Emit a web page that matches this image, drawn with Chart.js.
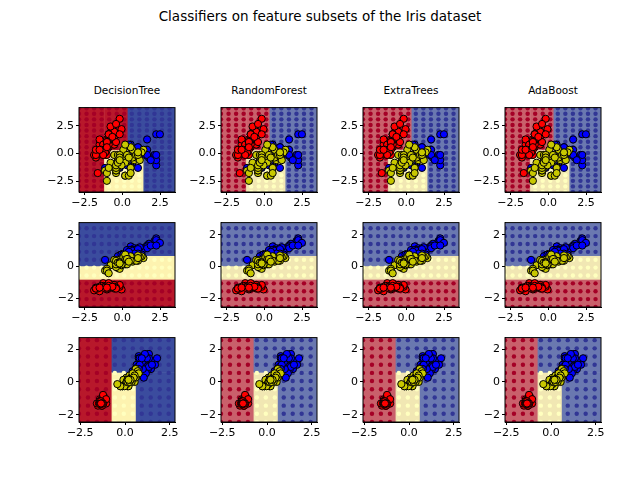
<!DOCTYPE html>
<html>
<head>
<meta charset="utf-8">
<script src="https://cdn.jsdelivr.net/npm/chart.js@4/dist/chart.umd.min.js"></script>
<style>
  body { margin: 0; background: #fff; font-family: "DejaVu Sans", sans-serif; }
  #fig { position: relative; width: 640px; height: 480px; }
  .t { position: absolute; text-align: center; color: #000; white-space: nowrap; }
  .box { position: absolute; }
</style>
</head>
<body>
<div id="fig">
  <div class="t" style="left:0;width:640px;top:8px;font-size:13.5px">Classifiers on feature subsets of the Iris dataset</div>
</div>
<script>
// Iris: sepal length, sepal width, petal length, petal width (cm)
const setosaSL = [5.1,4.9,4.7,4.6,5.0,5.4,4.6,5.0,4.4,4.9,5.4,4.8,4.8,4.3,5.8,5.7,5.4,5.1,5.7,5.1,5.4,5.1,4.6,5.1,4.8,5.0,5.0,5.2,5.2,4.7,4.8,5.4,5.2,5.5,4.9,5.0,5.5,4.9,4.4,5.1,5.0,4.5,4.4,5.0,5.1,4.8,5.1,4.6,5.3,5.0];
const setosaSW = [3.5,3.0,3.2,3.1,3.6,3.9,3.4,3.4,2.9,3.1,3.7,3.4,3.0,3.0,4.0,4.4,3.9,3.5,3.8,3.8,3.4,3.7,3.6,3.3,3.4,3.0,3.4,3.5,3.4,3.2,3.1,3.4,4.1,4.2,3.1,3.2,3.5,3.1,3.0,3.4,3.5,2.3,3.2,3.5,3.8,3.0,3.8,3.2,3.7,3.3];
const setosaPL = [1.4,1.4,1.3,1.5,1.4,1.7,1.4,1.5,1.4,1.5,1.5,1.6,1.4,1.1,1.2,1.5,1.3,1.4,1.7,1.5,1.7,1.5,1.0,1.7,1.9,1.6,1.6,1.5,1.4,1.6,1.6,1.5,1.5,1.4,1.5,1.2,1.3,1.5,1.3,1.5,1.3,1.3,1.3,1.6,1.9,1.4,1.6,1.4,1.5,1.4];
const setosaPW = [0.2,0.2,0.2,0.2,0.2,0.4,0.3,0.2,0.2,0.1,0.2,0.2,0.1,0.1,0.2,0.4,0.4,0.3,0.3,0.3,0.2,0.4,0.2,0.5,0.2,0.2,0.4,0.2,0.2,0.2,0.2,0.4,0.1,0.2,0.1,0.2,0.2,0.1,0.2,0.2,0.3,0.3,0.2,0.6,0.4,0.3,0.2,0.2,0.2,0.2];
const versiSL = [7.0,6.4,6.9,5.5,6.5,5.7,6.3,4.9,6.6,5.2,5.0,5.9,6.0,6.1,5.6,6.7,5.6,5.8,6.2,5.6,5.9,6.1,6.3,6.1,6.4,6.6,6.8,6.7,6.0,5.7,5.5,5.5,5.8,6.0,5.4,6.0,6.7,6.3,5.6,5.5,5.5,6.1,5.8,5.0,5.6,5.7,5.7,6.2,5.1,5.7];
const versiSW = [3.2,3.2,3.1,2.3,2.8,2.8,3.3,2.4,2.9,2.7,2.0,3.0,2.2,2.9,2.9,3.1,3.0,2.7,2.2,2.5,3.2,2.8,2.5,2.8,2.9,3.0,2.8,3.0,2.9,2.6,2.4,2.4,2.7,2.7,3.0,3.4,3.1,2.3,3.0,2.5,2.6,3.0,2.6,2.3,2.7,3.0,2.9,2.9,2.5,2.8];
const versiPL = [4.7,4.5,4.9,4.0,4.6,4.5,4.7,3.3,4.6,3.9,3.5,4.2,4.0,4.7,3.6,4.4,4.5,4.1,4.5,3.9,4.8,4.0,4.9,4.7,4.3,4.4,4.8,5.0,4.5,3.5,3.8,3.7,3.9,5.1,4.5,4.5,4.7,4.4,4.1,4.0,4.4,4.6,4.0,3.3,4.2,4.2,4.2,4.3,3.0,4.1];
const versiPW = [1.4,1.5,1.5,1.3,1.5,1.3,1.6,1.0,1.3,1.4,1.0,1.5,1.0,1.4,1.3,1.4,1.5,1.0,1.5,1.1,1.8,1.3,1.5,1.2,1.3,1.4,1.4,1.7,1.5,1.0,1.1,1.0,1.2,1.6,1.5,1.6,1.5,1.3,1.3,1.3,1.2,1.4,1.2,1.0,1.3,1.2,1.3,1.3,1.1,1.3];
const virgSL = [6.3,5.8,7.1,6.3,6.5,7.6,4.9,7.3,6.7,7.2,6.5,6.4,6.8,5.7,5.8,6.4,6.5,7.7,7.7,6.0,6.9,5.6,7.7,6.3,6.7,7.2,6.2,6.1,6.4,7.2,7.4,7.9,6.4,6.3,6.1,7.7,6.3,6.4,6.0,6.9,6.7,6.9,5.8,6.8,6.7,6.7,6.3,6.5,6.2,5.9];
const virgSW = [3.3,2.7,3.0,2.9,3.0,3.0,2.5,2.9,2.5,3.6,3.2,2.7,3.0,2.5,2.8,3.2,3.0,3.8,2.6,2.2,3.2,2.8,2.8,2.7,3.3,3.2,2.8,3.0,2.8,3.0,2.8,3.8,2.8,2.8,2.6,3.0,3.4,3.1,3.0,3.1,3.1,3.1,2.7,3.2,3.3,3.0,2.5,3.0,3.4,3.0];
const virgPL = [6.0,5.1,5.9,5.6,5.8,6.6,4.5,6.3,5.8,6.1,5.1,5.3,5.5,5.0,5.1,5.3,5.5,6.7,6.9,5.0,5.7,4.9,6.7,4.9,5.7,6.0,4.8,4.9,5.6,5.8,6.1,6.4,5.6,5.1,5.6,6.1,5.6,5.5,4.8,5.4,5.6,5.1,5.1,5.9,5.7,5.2,5.0,5.2,5.4,5.1];
const virgPW = [2.5,1.9,2.1,1.8,2.2,2.1,1.7,1.8,1.8,2.5,2.0,1.9,2.1,2.0,2.4,2.3,1.8,2.2,2.3,1.5,2.3,2.0,2.0,1.8,2.1,1.8,1.8,1.8,2.1,1.6,1.9,2.0,2.2,1.5,1.4,2.3,2.4,1.8,1.8,2.1,2.4,2.3,1.9,2.3,2.5,2.3,1.9,2.0,2.3,1.8];

const classifiers = ["DecisionTree", "RandomForest", "ExtraTrees", "AdaBoost"];
const featurePairs = [[0, 1], [0, 2], [2, 3]];
const xTicks = [[-2.5, 0, 2.5], [-2.5, 0, 2.5], [-2.5, 0, 2.5]];
const yTicks = [[-2.5, 0, 2.5], [-2, 0, 2], [-2, 0, 2]];

// approximate decision regions per row: [x0, x1, y0, y1, class]
const regions = [
  [[-9,-1.2,-9,9,0],[-1.2,0.35,0.3,9,0],[-1.2,1.4,-9,0.3,1],[0.35,9,0.3,9,2],[1.4,9,-9,0.3,2]],
  [[-9,9,-9,-0.8,0],[-9,9,-0.8,0.05,1],[0.1,9,0.05,0.7,1],[-9,0.1,0.05,9,2],[0.1,9,0.7,9,2]],
  [[-9,-0.75,-9,9,0],[-0.75,0.6,-9,0.6,1],[-0.75,9,0.6,9,2],[0.6,9,-9,0.6,2]]
];

const featureArrays = [
  [setosaSL, versiSL, virgSL], [setosaSW, versiSW, virgSW],
  [setosaPL, versiPL, virgPL], [setosaPW, versiPW, virgPW]
];
const std = featureArrays.map(cls => {
  const all = cls.flat();
  const m = all.reduce((a, b) => a + b, 0) / all.length;
  const s = Math.sqrt(all.reduce((a, b) => a + (b - m) ** 2, 0) / all.length);
  return { cls: cls.map(a => a.map(v => (v - m) / s)), min: (Math.min(...all) - m) / s, max: (Math.max(...all) - m) / s };
});

const pointColors = ["#ff0000", "#c8c800", "#0000ff"];
const solidFill = ["#b8182b", "#fdf3b0", "#3b4c9e"];
const softFill = ["#c9606b", "#f1e7b3", "#6a78b0"];
const dotFill = ["#a50026", "#ffffbf", "#313695"];

const lefts = [79, 221, 363, 505], tops = [103, 218, 333];
const W = 96, H = 89;
const fig = document.getElementById("fig");

function regionAt(r, x, y) {
  for (const q of regions[r]) if (x >= q[0] && x < q[1] && y >= q[2] && y < q[3]) return q[4];
  return 0;
}

featurePairs.forEach((pair, r) => {
  const fx = std[pair[0]], fy = std[pair[1]];
  classifiers.forEach((name, c) => {
    if (r === 0) {
      const t = document.createElement("div");
      t.className = "t";
      t.style.cssText = `left:${lefts[c]}px;width:${W}px;top:84px;font-size:10.5px`;
      t.textContent = name;
      fig.appendChild(t);
    }
    const box = document.createElement("div");
    box.className = "box";
    box.style.cssText = `left:${lefts[c] - 40}px;top:${tops[r] - 4}px;width:${W + 52}px;height:${H + 26}px`;
    const cv = document.createElement("canvas");
    box.appendChild(cv);
    fig.appendChild(box);

    const fills = c === 0 ? solidFill : softFill;
    const surface = {
      id: "surface",
      beforeDatasetsDraw(chart) {
        const { ctx, chartArea: a, scales: { x, y } } = chart;
        ctx.save();
        ctx.beginPath(); ctx.rect(a.left, a.top, a.width, a.height); ctx.clip();
        for (const q of regions[r]) {
          const x0 = x.getPixelForValue(Math.max(q[0], x.min)), x1 = x.getPixelForValue(Math.min(q[1], x.max));
          const y0 = y.getPixelForValue(Math.max(q[2], y.min)), y1 = y.getPixelForValue(Math.min(q[3], y.max));
          ctx.fillStyle = fills[q[4]];
          ctx.fillRect(x0, y1, x1 - x0 + 0.5, y0 - y1 + 0.5);
        }
        for (let gx = x.min; gx <= x.max; gx += 0.5) {
          for (let gy = y.min; gy <= y.max; gy += 0.5) {
            ctx.fillStyle = dotFill[regionAt(r, gx, gy)];
            ctx.beginPath();
            ctx.arc(x.getPixelForValue(gx), y.getPixelForValue(gy), 2.2, 0, Math.PI * 2);
            ctx.fill();
          }
        }
        ctx.restore();
      },
      afterDatasetsDraw(chart) {
        const { ctx, chartArea: a } = chart;
        ctx.save();
        ctx.strokeStyle = "#000"; ctx.lineWidth = 1;
        ctx.strokeRect(a.left, a.top, a.width, a.height);
        ctx.restore();
      }
    };

    const fmt = ticks => ticks.map(v => ({ value: v }));
    const lab = (v, dec) => (v < 0 ? "\u2212" : "") + Math.abs(v).toFixed(dec);
    const yDec = r === 0 ? 1 : 0;

    new Chart(cv, {
      type: "scatter",
      data: {
        datasets: [0, 1, 2].map(k => ({
          data: fx.cls[k].map((v, i) => ({ x: v, y: fy.cls[k][i] })),
          backgroundColor: pointColors[k],
          borderColor: "#000",
          borderWidth: 1,
          pointRadius: 3.6,
        }))
      },
      options: {
        responsive: true,
        maintainAspectRatio: false,
        animation: false,
        layout: { padding: { top: 4, right: 12, left: 0, bottom: 0 } },
        plugins: { legend: { display: false }, tooltip: { enabled: false } },
        scales: {
          x: {
            min: fx.min - 1, max: fx.max + 1,
            afterBuildTicks: s => { s.ticks = fmt(xTicks[r]); },
            afterFit: s => { s.height = 22; },
            ticks: { color: "#000", font: { size: 11, family: "DejaVu Sans" }, maxRotation: 0, padding: 2, callback: v => lab(v, 1) },
            grid: { drawOnChartArea: false, drawTicks: true, tickLength: 3, color: "#000" },
            border: { color: "#000" }
          },
          y: {
            min: fy.min - 1, max: fy.max + 1,
            afterBuildTicks: s => { s.ticks = fmt(yTicks[r]); },
            afterFit: s => { s.width = 40; },
            ticks: { color: "#000", font: { size: 11, family: "DejaVu Sans" }, padding: 2, callback: v => lab(v, yDec) },
            grid: { drawOnChartArea: false, drawTicks: true, tickLength: 3, color: "#000" },
            border: { color: "#000" }
          }
        }
      },
      plugins: [surface]
    });
  });
});
</script>
</body>
</html>
